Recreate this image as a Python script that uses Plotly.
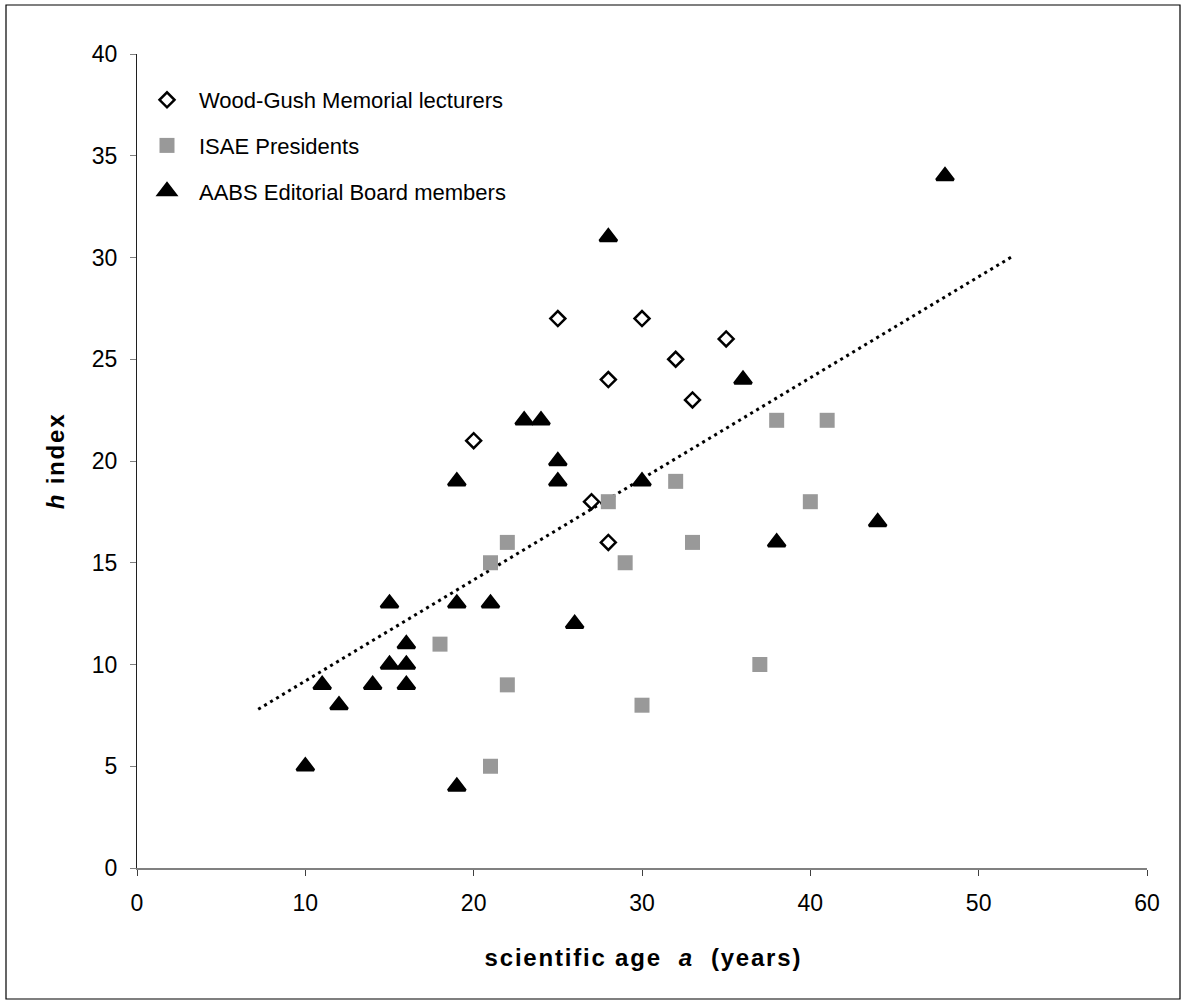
import plotly.graph_objects as go

# ---- data ----
wg_x = [20, 25, 27, 28, 28, 30, 32, 33, 35]
wg_y = [21, 27, 18, 24, 16, 27, 25, 23, 26]

isae_x = [18, 21, 21, 22, 22, 28, 29, 30, 32, 33, 37, 38, 40, 41]
isae_y = [11, 15, 5, 16, 9, 18, 15, 8, 19, 16, 10, 22, 18, 22]

aabs_x = [10, 11, 12, 14, 15, 15, 16, 16, 16, 19, 19, 19, 21, 23, 24, 25, 25, 26, 28, 30, 36, 38, 44, 48]
aabs_y = [5, 9, 8, 9, 13, 10, 11, 10, 9, 19, 13, 4, 13, 22, 22, 20, 19, 12, 31, 19, 24, 16, 17, 34]

trend_x = [7.2, 52.1]
trend_y = [7.8, 30.1]

x_ticks = [0, 10, 20, 30, 40, 50, 60]
y_ticks = [0, 5, 10, 15, 20, 25, 30, 35, 40]

series_names = ["Wood-Gush Memorial lecturers", "ISAE Presidents", "AABS Editorial Board members"]

FONT = "Liberation Sans, Arial, sans-serif"
W, H = 1184, 1003
ML, MR, MT, MB = 137, 37, 54, 135
PW = W - ML - MR
PH = H - MT - MB


def px_to_paper_x(px):
    return (px - ML) / PW


def px_to_paper_y(py):
    return (H - MB - py) / PH


fig = go.Figure()

fig.add_trace(go.Scatter(
    x=trend_x, y=trend_y, mode="lines",
    line=dict(color="black", width=3, dash="3px,4px"),
    showlegend=False, hoverinfo="skip",
))

fig.add_trace(go.Scatter(
    x=wg_x, y=wg_y, mode="markers", name=series_names[0], legendgroup="g1",
    marker=dict(symbol="diamond", size=11.5, color="white",
                line=dict(color="black", width=2.5)),
))
fig.add_trace(go.Scatter(
    x=isae_x, y=isae_y, mode="markers", name=series_names[1], legendgroup="g2",
    marker=dict(symbol="square", size=15, color="#999999",
                line=dict(color="#999999", width=0)),
))
fig.add_trace(go.Scatter(
    x=aabs_x, y=aabs_y, mode="markers", name=series_names[2], legendgroup="g3",
    marker=dict(symbol="triangle-up", size=15, color="black",
                line=dict(color="black", width=2.8)),
))

fig.update_layout(
    width=W, height=H,
    margin=dict(l=ML, r=MR, t=MT, b=MB),
    paper_bgcolor="white", plot_bgcolor="white",
    font=dict(family=FONT, size=23, color="black"),
    showlegend=True,
    legend=dict(
        x=px_to_paper_x(135), y=px_to_paper_y(79),
        xanchor="left", yanchor="top",
        font=dict(family=FONT, size=22, color="black"),
        traceorder="grouped", tracegroupgap=14,
        itemwidth=54, bgcolor="rgba(0,0,0,0)", borderwidth=0,
    ),
    xaxis=dict(
        range=[0, 60], tickvals=x_ticks, ticktext=[str(v) for v in x_ticks],
        showgrid=False, zeroline=False,
        showline=True, linecolor="#808080", linewidth=1.5,
        ticks="outside", ticklen=6, tickcolor="#404040", tickwidth=1,
        ticklabelstandoff=8,
        tickfont=dict(family=FONT, size=23, color="black"),
    ),
    yaxis=dict(
        range=[0, 40], tickvals=y_ticks, ticktext=[str(v) for v in y_ticks],
        showgrid=False, zeroline=False,
        showline=True, linecolor="#202020", linewidth=1.2,
        ticks="outside", ticklen=6, tickcolor="#808080", tickwidth=1,
        ticklabelstandoff=8,
        tickfont=dict(family=FONT, size=23, color="black"),
    ),
    shapes=[dict(
        type="rect", xref="paper", yref="paper",
        x0=px_to_paper_x(6), x1=px_to_paper_x(1180),
        y0=px_to_paper_y(999), y1=px_to_paper_y(5),
        line=dict(color="black", width=1.2), fillcolor="rgba(0,0,0,0)",
        layer="below",
    )],
    annotations=[
        dict(
            text="<b>scientific age\u00a0 <i>a</i> \u00a0(years)</b>",
            xref="paper", yref="paper",
            x=px_to_paper_x(643), y=px_to_paper_y(957),
            xanchor="center", yanchor="middle", showarrow=False,
            font=dict(family=FONT, size=24, color="black"),
        ),
        dict(
            text="<b><i>h</i> index</b>",
            xref="paper", yref="paper",
            x=px_to_paper_x(55), y=px_to_paper_y(461),
            xanchor="center", yanchor="middle", showarrow=False,
            textangle=-90,
            font=dict(family=FONT, size=24, color="black"),
        ),
    ],
)

post = """
document.body.style.margin='0';
document.querySelectorAll('.annotation-text').forEach(function(t){
  t.style.letterSpacing='1.8px';
});
"""

fig.write_html("out.html", post_script=post, config={"displayModeBar": False})
